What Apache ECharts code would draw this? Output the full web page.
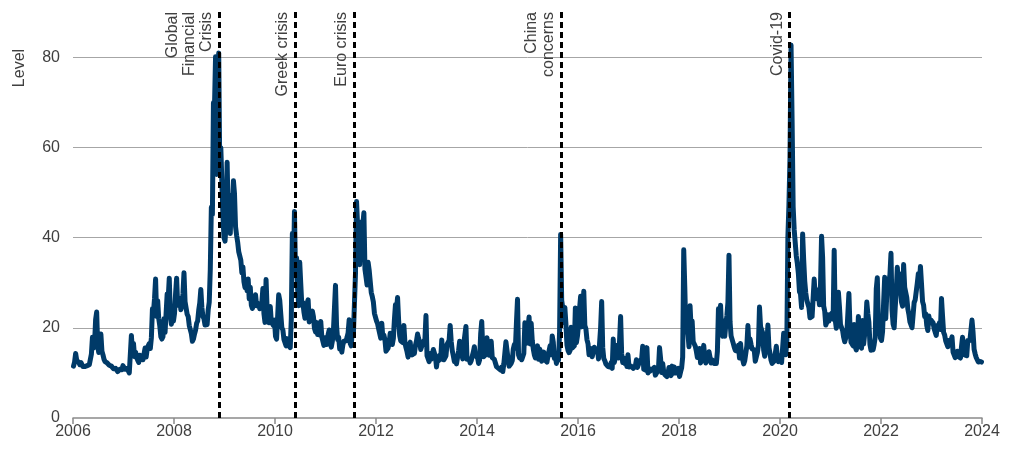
<!DOCTYPE html>
<html>
<head>
<meta charset="utf-8">
<script src="https://cdn.jsdelivr.net/npm/echarts@6/dist/echarts.min.js"></script>
<style>
  html, body { margin: 0; padding: 0; background: #fff; }
  #divChart { width: 1014px; height: 452px; }
</style>
</head>
<body>
<div id="divChart"></div>
<script>
/** VIX level, four readings a month (Jan..Dec) */
var vix2006 = [11.5,12.4,14.3,12.8, 12.6,12.3,11.8,12.3, 11.9,11.4,11.2,11.4, 11.8,11.6,11.3,11.8, 11.6,14.2,17.9,15.5, 16.5,21.8,23.5,15.9, 14.5,17.0,18.6,14.8, 14.0,13.0,12.5,12.3, 12.2,11.8,11.7,11.9, 11.5,11.2,10.9,11.0, 11.0,10.6,10.3,10.5, 10.8,10.4,10.7,11.6];
var vix2007 = [12.0,10.8,10.6,11.0, 10.6,10.0,10.4,18.3, 14.8,16.5,13.6,14.6, 13.5,12.8,12.3,13.9, 13.0,13.4,12.9,13.2, 15.5,13.5,15.2,16.0, 16.5,15.4,17.8,24.2, 23.5,26.5,30.8,22.5, 26.0,22.0,20.4,18.0, 17.5,18.0,22.0,19.0, 23.2,27.5,26.5,31.0, 22.9,20.8,22.6,21.5];
var vix2008 = [23.2,27.5,31.0,25.0, 25.5,26.5,24.0,25.0, 27.5,32.2,25.8,25.6, 23.0,22.5,20.5,20.1, 18.7,17.0,17.5,18.6, 19.5,21.0,21.5,23.9, 25.5,28.5,24.5,22.5, 22.0,20.6,20.4,20.7, 24.0,25.7,33.0,46.7, 45.1,69.9,69.0,80.1, 54.0,66.3,80.9,55.3, 59.9,52.4,44.9,40.0];
var vix2009 = [39.2,42.8,56.7,44.8, 43.4,40.9,49.3,46.4, 52.6,49.7,42.4,40.5, 39.0,36.9,36.8,35.0, 32.2,33.5,30.2,28.9, 29.8,28.2,30.8,26.4, 29.0,25.0,24.3,24.6, 25.5,27.3,24.9,25.3, 25.3,24.2,23.9,25.6, 28.7,23.1,21.2,30.7, 24.2,22.9,21.1,24.7, 21.3,21.6,20.5,21.7];
var vix2010 = [18.1,17.5,17.9,27.3, 26.1,23.0,20.0,19.5, 17.4,17.6,16.0,17.6, 16.2,16.0,15.6,22.1, 40.9,31.9,45.8,32.0, 35.5,28.6,24.9,34.5, 29.7,25.0,25.6,23.5, 22.1,24.1,25.4,26.2, 21.3,22.0,21.7,23.7, 22.5,19.9,19.1,21.2, 18.5,20.6,18.4,21.4, 18.0,17.6,16.1,17.8];
var vix2011 = [17.1,16.3,18.5,19.5, 16.7,15.7,17.0,19.2, 19.1,29.4,20.6,17.4, 17.9,15.3,15.8,14.6, 16.2,17.0,17.4,17.1, 17.9,18.9,21.8,16.5, 16.0,19.9,18.5,25.3, 32.0,48.0,42.7,35.6, 34.0,41.0,43.5,42.9, 45.5,33.0,31.3,29.5, 34.5,32.8,32.5,27.8, 26.9,25.7,23.2,23.4];
var vix2012 = [21.5,20.9,19.8,19.4, 17.7,21.0,17.8,18.4, 17.3,14.8,15.1,15.5, 16.7,18.8,17.3,16.3, 17.6,21.8,25.1,24.1, 26.7,21.7,18.3,17.1, 17.5,16.7,20.5,16.7, 15.6,14.7,13.5,16.3, 16.8,14.5,14.0,15.7, 14.3,16.1,17.1,18.6, 17.6,16.9,15.2,15.9, 16.7,16.3,17.4,22.7];
var vix2013 = [13.8,13.5,12.5,14.3, 13.0,12.7,15.2,15.5, 13.6,11.3,13.2,12.7, 13.9,13.0,17.3,13.7, 12.9,12.6,13.8,16.3, 16.3,17.2,20.5,16.9, 14.9,13.8,12.5,13.5, 12.0,13.4,14.9,17.0, 15.9,14.2,13.1,16.6, 16.7,20.3,13.0,13.2, 13.1,12.2,12.7,13.7, 14.6,15.8,13.8,13.7];
var vix2014 = [13.4,12.1,12.9,18.7, 21.4,15.3,13.6,14.0, 14.1,17.8,15.0,13.9, 14.9,17.0,13.4,13.3, 13.0,12.2,11.4,11.4, 11.0,11.1,10.6,11.3, 10.3,12.0,12.2,16.9, 16.7,13.2,11.5,11.9, 12.1,12.7,15.3,16.3, 15.5,21.2,26.3,14.0, 13.3,13.8,12.9,13.3, 14.3,21.1,16.5,19.2];
var vix2015 = [19.9,22.4,16.4,21.0, 17.2,15.3,14.0,13.3, 15.2,16.0,13.0,15.3, 14.7,12.6,13.0,14.6, 12.9,13.2,12.4,13.8, 14.2,16.0,14.0,18.2, 16.8,13.2,13.7,12.1, 13.4,12.8,19.1,40.7, 26.1,24.4,21.1,24.5, 20.9,16.2,15.0,14.5, 15.0,20.1,15.5,15.1, 16.0,24.4,16.7,18.2];
var vix2016 = [20.7,24.3,27.0,20.2, 23.4,28.1,20.5,19.8, 17.4,16.5,14.0,13.6, 15.4,13.6,13.3,15.7, 14.7,14.4,15.2,13.1, 13.5,20.0,25.8,15.6, 13.2,12.7,12.0,11.9, 11.4,11.3,11.3,12.3, 11.0,17.5,12.3,13.3, 13.5,16.1,13.3,17.1, 22.5,14.2,12.3,13.3, 12.1,12.6,11.4,14.0];
var vix2017 = [11.3,11.2,11.5,11.9, 11.0,10.8,11.5,12.9, 11.2,11.3,12.5,12.4, 13.1,15.9,10.8,10.8, 10.6,15.6,10.0,11.0, 10.4,10.4,10.8,11.2, 11.2,9.5,9.4,10.3, 11.0,15.6,13.2,10.1, 12.1,10.2,9.6,9.5, 9.2,9.9,11.2,10.2, 9.4,11.5,9.9,11.3, 10.0,10.2,10.0,11.0];
var vix2018 = [9.2,10.2,11.1,13.5, 37.3,29.0,19.5,19.9, 18.7,15.8,24.9,20.0, 21.5,16.9,16.9,15.9, 14.8,13.4,13.2,15.4, 12.2,12.0,14.0,16.1, 13.4,12.2,12.9,13.0, 14.7,14.6,12.2,12.9, 13.2,12.1,11.7,12.1, 14.8,24.2,19.9,25.0, 19.5,18.1,21.5,18.1, 20.7,22.6,25.6,36.1];
var vix2019 = [21.4,18.2,18.6,16.6, 15.7,15.0,14.9,14.8, 16.1,13.3,16.5,13.7, 13.0,12.0,12.7,13.1, 16.0,20.5,15.8,17.5, 16.3,15.3,15.4,15.1, 12.6,13.0,14.5,16.1, 24.6,20.3,19.9,18.9, 15.0,13.7,15.3,16.2, 20.6,15.6,14.3,12.8, 12.1,12.1,12.6,12.6, 15.9,13.5,12.5,13.8];
var vix2020 = [14.0,12.3,12.1,18.8, 15.5,14.0,17.1,40.1, 47.3,57.8,82.7,66.0, 46.8,41.7,41.4,35.9, 34.2,31.9,28.0,27.5, 24.5,40.8,35.1,30.4, 27.7,26.1,25.8,24.5, 22.2,22.0,22.5,22.9, 30.8,26.9,28.5,26.4, 27.6,25.1,29.4,40.3, 35.6,24.8,23.7,20.6, 21.2,22.9,21.5,22.8];
var vix2021 = [22.4,23.3,21.9,37.2, 21.8,19.9,22.0,27.9, 24.7,20.7,20.9,19.4, 17.9,16.9,17.3,18.6, 18.4,27.6,20.2,16.8, 16.4,16.0,20.7,15.8, 15.1,16.2,22.5,18.2, 16.1,15.5,21.6,16.4, 16.4,20.8,25.7,23.1, 21.2,16.3,15.0,16.3, 15.1,16.3,17.9,28.6, 31.1,21.6,20.6,17.7];
var vix2022 = [17.2,19.2,25.6,31.2, 22.0,27.4,29.0,30.2, 31.8,36.5,23.9,20.8, 20.0,24.4,28.2,33.4, 30.2,32.0,31.9,25.7, 24.8,34.0,29.0,28.7, 26.7,24.2,23.0,21.3, 21.4,20.0,19.6,25.6, 26.2,26.3,29.9,32.0, 30.1,33.6,29.7,25.8, 25.0,22.5,23.1,20.5, 19.4,22.6,21.0,21.7];
var vix2023 = [22.0,21.1,19.8,19.4, 18.3,20.5,20.0,21.1, 19.6,26.5,22.6,19.0, 18.4,17.1,16.8,15.8, 17.2,17.0,17.1,18.0, 14.6,14.0,13.4,13.6, 14.8,13.6,13.6,13.3, 15.8,17.9,15.7,14.0, 13.8,13.8,17.2,17.5, 17.2,17.0,21.7,19.0, 15.2,14.2,13.4,12.9, 12.4,12.2,12.5,12.4];

var firstYear = 2006;
var vixYears = [vix2006, vix2007, vix2008, vix2009, vix2010, vix2011, vix2012, vix2013, vix2014,
                vix2015, vix2016, vix2017, vix2018, vix2019, vix2020, vix2021, vix2022, vix2023];

/** events: position in decimal years */
var eventNames = ['Global\nFinancial\nCrisis', 'Greek crisis', 'Euro crisis', 'China\nconcerns', 'Covid-19'];
var eventDates = [2008.89, 2010.40, 2011.57, 2015.66, 2020.19];

var yGridLevels = [20, 40, 60, 80];

var textFont = 'Liberation Sans';
var textColor = '#404040';
var lineColor = '#003a68';

// build the series points
var seriesData = [];
for (var i = 0; i < vixYears.length; i++) {
  for (var j = 0; j < vixYears[i].length; j++) {
    seriesData.push([firstYear + i + (j + 0.5) / vixYears[i].length, vixYears[i][j]]);
  }
}

var eventLines = [];
for (var k = 0; k < eventDates.length; k++) {
  eventLines.push({ xAxis: eventDates[k], label: { formatter: eventNames[k] } });
}

var gridLines = [];
for (var g = 0; g < yGridLevels.length; g++) {
  gridLines.push({ yAxis: yGridLevels[g] });
}

var option = {
  animation: false,
  backgroundColor: '#ffffff',
  textStyle: { fontFamily: textFont },
  grid: { left: 73, right: 32, top: 12, bottom: 34, containLabel: false },
  graphic: [{
    type: 'text',
    x: 20, y: 68,
    rotation: Math.PI / 2,
    style: { text: 'Level', fill: textColor, font: '16px "' + textFont + '"', align: 'center', verticalAlign: 'middle' }
  }],
  xAxis: {
    type: 'value',
    min: 2006, max: 2024, interval: 2,
    axisLine: { show: true, lineStyle: { color: '#8a8a8a', width: 1.5 } },
    axisTick: { show: true, length: 6, lineStyle: { color: '#8a8a8a', width: 1.5 } },
    splitLine: { show: false },
    axisLabel: { color: textColor, fontSize: 16, fontFamily: textFont, margin: 6,
      formatter: function (v) { return String(v); } }
  },
  yAxis: {
    type: 'value',
    min: 0, max: 90, interval: 20,
    axisLine: { show: false },
    axisTick: { show: false },
    splitLine: { show: false },
    axisLabel: { color: textColor, fontSize: 16, fontFamily: textFont, margin: 13,
      formatter: function (v) { return v > 80 ? '' : String(v); } }
  },
  series: [
    {
      // horizontal gridlines, kept behind the data
      type: 'line', data: [], z: 0, silent: true,
      markLine: {
        silent: true, symbol: 'none', z: 0, animation: false,
        label: { show: false },
        lineStyle: { color: '#a6a6a6', width: 1, type: 'solid' },
        data: gridLines
      }
    },
    {
      name: 'Level',
      type: 'line',
      data: seriesData,
      showSymbol: false,
      z: 2,
      lineStyle: { color: lineColor, width: 5, join: 'round', cap: 'round' },
      itemStyle: { color: lineColor }
    },
    {
      // event markers on top
      type: 'line', data: [], z: 5, silent: true,
      markLine: {
        silent: true, symbol: 'none', animation: false,
        lineStyle: { color: '#000000', width: 3, type: [6, 4] },
        label: {
          show: true, position: 'insideEndTop', distance: [0, 4],
          color: textColor, fontSize: 16, fontFamily: textFont, lineHeight: 17
        },
        data: eventLines
      }
    }
  ]
};

var divChart = echarts.init(document.getElementById('divChart'));
divChart.setOption(option);
</script>
</body>
</html>
